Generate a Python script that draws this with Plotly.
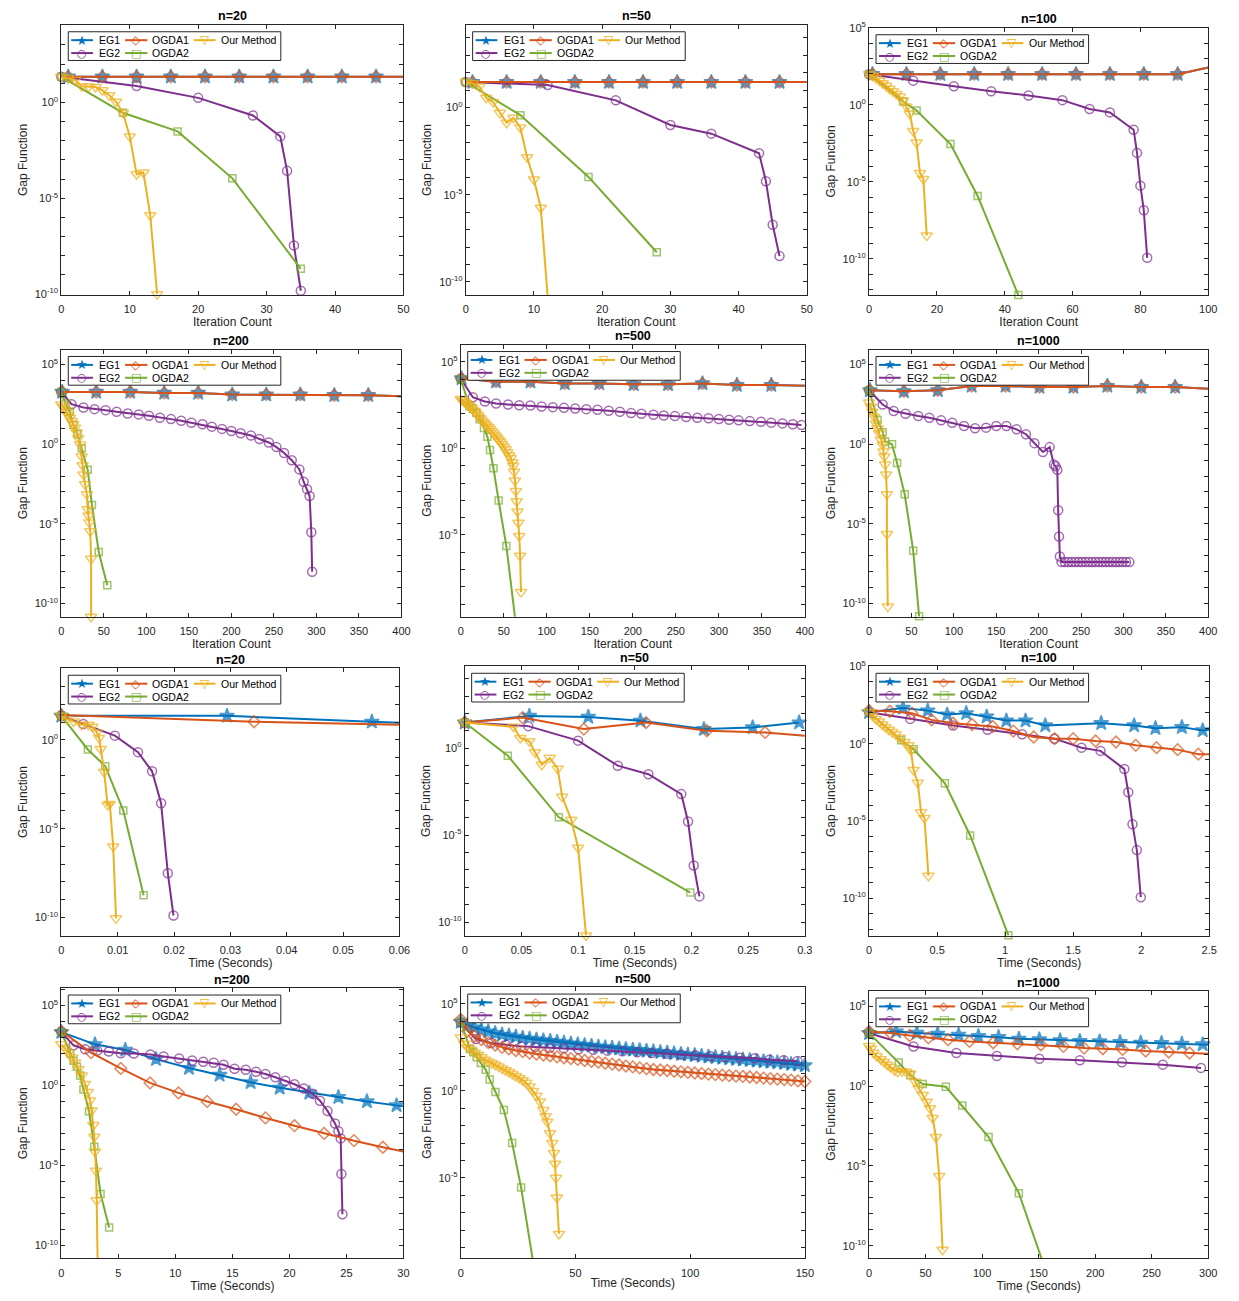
import math
import plotly.graph_objects as go

# figure fills the 1239x1301 page (body margin is removed after drawing)
OX, OY = 0, 0
FW, FH = 1239, 1301
FONT = "Liberation Sans, Arial, Helvetica, sans-serif"
INK = "#262626"

SERIES = ["EG1", "EG2", "OGDA1", "OGDA2", "Our Method"]
COLORS = {"EG1": "#0072BD", "EG2": "#7E2F8E", "OGDA1": "#D95319",
          "OGDA2": "#77AC30", "Our Method": "#EDB120"}
SYMBOLS = {"EG1": "star", "EG2": "circle-open", "OGDA1": "diamond-open",
           "OGDA2": "square-open", "Our Method": "triangle-down-open"}
MSIZE = {"EG1": 11, "EG2": 9, "OGDA1": 9, "OGDA2": 7, "Our Method": 10}
GLYPH = {"EG1": "★", "EG2": "○", "OGDA1": "◇", "OGDA2": "□", "Our Method": "▽"}
GLYPH_SIZE = {"EG1": 13, "EG2": 11, "OGDA1": 12, "OGDA2": 11, "Our Method": 12}

ITER_LABEL = "Iteration Count"
TIME_LABEL = "Time (Seconds)"
Y_LABEL = "Gap Function"
TITLES = ["n=20", "n=50", "n=100", "n=200", "n=500", "n=1000",
          "n=20", "n=50", "n=100", "n=200", "n=500", "n=1000"]

# legend layout (entries in MATLAB column-first order, 3 columns)
LEG_ITEMS = [("EG1", 0, 0), ("OGDA1", 1, 0), ("Our Method", 2, 0), ("EG2", 0, 1), ("OGDA2", 1, 1)]

# x tick values / labels
XT_50 = [0, 10, 20, 30, 40, 50]
XT_50_TXT = ["0", "10", "20", "30", "40", "50"]
XT_100 = [0, 20, 40, 60, 80, 100]
XT_100_TXT = ["0", "20", "40", "60", "80", "100"]
XT_400 = [0, 50, 100, 150, 200, 250, 300, 350, 400]
XT_400_TXT = ["0", "50", "100", "150", "200", "250", "300", "350", "400"]
XT_006 = [0, 0.01, 0.02, 0.03, 0.04, 0.05, 0.06]
XT_006_TXT = ["0", "0.01", "0.02", "0.03", "0.04", "0.05", "0.06"]
XT_03 = [0, 0.05, 0.1, 0.15, 0.2, 0.25, 0.3]
XT_03_TXT = ["0", "0.05", "0.1", "0.15", "0.2", "0.25", "0.3"]
XT_25 = [0, 0.5, 1, 1.5, 2, 2.5]
XT_25_TXT = ["0", "0.5", "1", "1.5", "2", "2.5"]
XT_30 = [0, 5, 10, 15, 20, 25, 30]
XT_30_TXT = ["0", "5", "10", "15", "20", "25", "30"]
XT_150 = [0, 50, 100, 150]
XT_150_TXT = ["0", "50", "100", "150"]
XT_300 = [0, 50, 100, 150, 200, 250, 300]
XT_300_TXT = ["0", "50", "100", "150", "200", "250", "300"]

# ---------------- Panel 1: n=20, iterations ----------------
P1_EG1_X = [0, 1, 6, 11, 16, 21, 26, 31, 36, 41, 46, 50]
P1_EG1_Y = [22, 22, 22, 22, 22, 22, 22, 22, 22, 22, 22, 22]
P1_OGDA1_X = [0, 1, 6, 11, 16, 21, 26, 31, 36, 41, 46, 50]
P1_OGDA1_Y = [22, 22, 22, 22, 22, 22, 22, 22, 22, 22, 22, 22]
P1_EG2_X = [0, 11, 20, 28, 32, 33, 34, 35]
P1_EG2_Y = [22, 7.2, 1.74, 0.21, 0.017, 2.7e-4, 3.5e-8, 1.5e-10]
P1_OGDA2_X = [0, 9, 17, 25, 35]
P1_OGDA2_Y = [22, 0.29, 0.031, 1.1e-4, 2.1e-9]
P1_OUR_X = [0, 1, 2, 3, 4, 5, 6, 7, 8, 9, 10, 11, 12, 13, 14]
P1_OUR_Y = [22, 19, 15, 6.9, 6.9, 6.4, 4.3, 2.4, 1.08, 0.29, 0.017, 1.8e-4, 2.2e-4, 1.3e-6, 1.0e-10]

# ---------------- Panel 2: n=50, iterations ----------------
P2_EG1_X = [0, 1, 6, 11, 16, 21, 26, 31, 36, 41, 46, 50]
P2_EG1_Y = [29, 29, 29, 29, 29, 29, 29, 29, 29, 29, 29, 29]
P2_OGDA1_X = [0, 1, 6, 11, 16, 21, 26, 31, 36, 41, 46, 50]
P2_OGDA1_Y = [29, 29, 29, 29, 29, 29, 29, 29, 29, 29, 29, 29]
P2_EG2_X = [0, 12, 22, 30, 36, 43, 44, 45, 46]
P2_EG2_Y = [29, 20, 2.6, 0.10, 0.032, 2.4e-3, 6e-5, 1.9e-7, 3e-9]
P2_OGDA2_X = [0, 8, 18, 28]
P2_OGDA2_Y = [29, 0.37, 1.05e-4, 5e-9]
P2_OUR_X = [0, 1, 2, 3, 4, 5, 6, 7, 8, 9, 10, 11, 12]
P2_OUR_Y = [29, 25, 16, 3.7, 2.1, 0.5, 0.134, 0.26, 0.073, 1.4e-3, 7.5e-5, 1.8e-6, 1.7e-11]

# ---------------- Panel 3: n=100, iterations ----------------
P3_EG1_X = [0, 1, 11, 21, 31, 41, 51, 61, 71, 81, 91, 100]
P3_EG1_Y = [98, 98, 98, 98, 98, 98, 98, 98, 98, 98, 98, 263]
P3_OGDA1_X = [0, 1, 11, 21, 31, 41, 51, 61, 71, 81, 91, 100]
P3_OGDA1_Y = [98, 98, 98, 98, 98, 98, 98, 98, 98, 98, 98, 263]
P3_EG2_X = [0, 13, 25, 36, 47, 57, 65, 71, 78, 79, 80, 81, 82]
P3_EG2_Y = [98, 37, 16, 7.5, 4.0, 2.0, 0.53, 0.32, 0.024, 7.5e-4, 5.6e-6, 1.4e-7, 1.15e-10]
P3_OGDA2_X = [0, 10, 14, 24, 32, 44]
P3_OGDA2_Y = [98, 1.64, 0.43, 2.8e-3, 1.2e-6, 4.4e-13]
P3_OUR_X = [0, 1, 2, 3, 4, 5, 6, 7, 8, 9, 10, 11, 12, 13, 14, 15, 16, 17]
P3_OUR_Y = [98, 77, 54, 37, 25, 17, 11, 7.5, 5.1, 3.4, 1.9, 0.78, 0.26, 0.02, 3.5e-3, 3.7e-5, 1.5e-5, 3.2e-9]

# ---------------- Panel 4: n=200, iterations ----------------
P4_EG1_X = [0, 1, 41, 81, 121, 161, 201, 241, 281, 321, 361, 400]
P4_EG1_Y = [1860, 1860, 1860, 1860, 1620, 1620, 1270, 1270, 1270, 1160, 1160, 1000]
P4_OGDA1_X = [0, 1, 41, 81, 121, 161, 201, 241, 281, 321, 361, 400]
P4_OGDA1_Y = [1860, 1860, 1860, 1860, 1620, 1620, 1270, 1270, 1270, 1160, 1160, 1000]
P4_EG2_X = [0, 12, 26, 39, 52, 65, 78, 91, 103, 116, 129, 141, 153, 166, 177, 189, 200, 211,
            223, 233, 244, 253, 262, 271, 280, 285, 289, 292, 294, 295]
P4_EG2_Y = [1860, 320, 200, 156, 135, 107, 84, 73, 60, 45, 37, 29.5, 22, 17.5, 12.5, 9, 6.7, 4.8,
            3.45, 2.1, 1.27, 0.65, 0.28, 0.097, 0.026, 4.4e-3, 1.5e-3, 5.6e-4, 3e-6, 1e-8]
P4_OGDA2_X = [0, 5, 10, 14, 19, 24, 31, 36, 44, 54]
P4_OGDA2_Y = [1860, 350, 107, 16, 4.2, 0.56, 0.025, 1.55e-4, 1.7e-7, 1.4e-9]
P4_OUR_X = [0, 2, 4, 6, 8, 10, 12, 14, 16, 18, 20, 22, 24, 25, 26, 28, 30, 31, 32, 33, 34, 35, 35]
P4_OUR_Y = [305, 219, 157, 107, 66, 45, 28, 18.3, 10.8, 5.6, 2.4, 0.95, 0.17, 0.047, 0.0124,
            3.0e-3, 7.1e-4, 8.3e-5, 3.2e-5, 1.24e-5, 3.4e-6, 6.5e-8, 1.5e-11]

# ---------------- Panel 5: n=500, iterations ----------------
P5_EG1_X = [0, 1, 41, 81, 121, 161, 201, 241, 281, 321, 361, 400]
P5_EG1_Y = [11000, 11000, 7200, 7200, 5750, 5750, 5050, 5050, 5750, 4600, 4600, 4240]
P5_OGDA1_X = [0, 1, 41, 81, 121, 161, 201, 241, 281, 321, 361, 400]
P5_OGDA1_Y = [11000, 11000, 7200, 7200, 5750, 5750, 5050, 5050, 5750, 4600, 4600, 4240]
P5_EG2_X = [0, 14, 28, 41, 55, 68, 81, 94, 107, 120, 133, 146, 159, 172, 185, 198, 210, 224,
            236, 249, 262, 275, 288, 300, 312, 323, 336, 349, 361, 374, 386, 396]
P5_EG2_Y = [11000, 908, 513, 394, 345, 316, 302, 265, 243, 222, 204, 187, 171, 150, 131, 110, 101,
            88, 81, 74, 65, 60, 55, 50, 46, 42, 38, 35, 31, 28, 25, 22.6]
P5_OGDA2_X = [0, 10, 14, 18, 22, 27, 31, 34, 38, 44, 53, 63]
P5_OGDA2_Y = [10000, 277, 195, 115, 48, 15.2, 4.7, 0.8, 0.072, 9.7e-4, 2.3e-6, 1.85e-10]
P5_OUR_X = [0, 2, 4, 6, 8, 10, 12, 14, 16, 18, 20, 22, 24, 26, 28, 30, 32, 34, 36, 38, 40, 42,
            44, 46, 48, 50, 52, 54, 56, 58, 60, 61, 62, 63, 64, 65, 66, 67, 68, 69, 70]
P5_OUR_Y = [720, 600, 500, 420, 350, 290, 230, 180, 140, 105, 81, 60, 45, 34, 27, 21, 17, 13.5,
            10, 7.6, 5.6, 4.3, 3.2, 2.4, 1.8, 1.26, 0.89, 0.60, 0.40, 0.28, 0.16, 0.1, 0.045,
            0.014, 3.5e-3, 8.9e-4, 2.3e-4, 5.1e-5, 8.7e-6, 6.3e-7, 5e-9]

# ---------------- Panel 6: n=1000, iterations ----------------
P6_EG1_X = [0, 1, 41, 81, 121, 161, 201, 241, 281, 321, 361, 400]
P6_EG1_Y = [2370, 2370, 2050, 2370, 4400, 4400, 3800, 3800, 4400, 3800, 3800, 3000]
P6_OGDA1_X = [0, 1, 41, 81, 121, 161, 201, 241, 281, 321, 361, 400]
P6_OGDA1_Y = [2370, 2370, 2050, 2370, 4400, 4400, 3800, 3800, 4400, 3800, 3800, 3000]
P6_EG2_X = [0, 16, 29, 43, 58, 71, 85, 98, 112, 125, 138, 150, 162, 174, 185, 195, 205, 213,
            218, 220, 222, 223, 224, 225,
            227, 231, 235, 239, 243, 247, 251, 255, 259, 263, 267, 271, 275, 279, 283, 287,
            291, 295, 299, 303, 307]
P6_EG2_Y = [2370, 305, 118, 80, 57.5, 45, 31, 22, 13.8, 9.9, 10.8, 13.8, 13.8, 8.5, 4.2, 1.15,
            0.32, 0.65, 0.052, 0.041, 0.025, 7.2e-5, 1.6e-6, 9.1e-8,
            4e-8, 4e-8, 4e-8, 4e-8, 4e-8, 4e-8, 4e-8, 4e-8, 4e-8, 4e-8, 4e-8, 4e-8, 4e-8, 4e-8,
            4e-8, 4e-8, 4e-8, 4e-8, 4e-8, 4e-8, 4e-8]
P6_OGDA2_X = [0, 10, 16, 19, 27, 33, 42, 52, 59]
P6_OGDA2_Y = [2370, 32.5, 5.6, 1.47, 1.0, 0.066, 7.1e-4, 2.1e-7, 1.6e-11]
P6_OUR_X = [0, 2, 4, 6, 8, 10, 12, 14, 16, 17, 18, 19, 20, 21, 21, 22]
P6_OUR_Y = [407, 219, 107, 52, 20, 9.9, 4.8, 1.86, 0.91, 0.35, 0.17, 0.052, 0.0124, 7.1e-4,
            2.3e-6, 6.5e-11]

# ---------------- Panel 7: n=20, time ----------------
P7_EG1_X = [0, 0.0294, 0.0551, 0.06]
P7_EG1_Y = [22.7, 22.7, 10.5, 9.3]
P7_OGDA1_X = [0, 0.0342, 0.06]
P7_OGDA1_Y = [25, 10.5, 7.2]
P7_EG2_X = [0, 0.0039, 0.0095, 0.0136, 0.0161, 0.0177, 0.0189, 0.0199]
P7_EG2_Y = [22.7, 7.8, 1.74, 0.205, 0.0171, 2.7e-4, 3.1e-8, 1.3e-10]
P7_OGDA2_X = [0, 0.0047, 0.0078, 0.011, 0.0146]
P7_OGDA2_Y = [22.7, 0.29, 0.033, 1.05e-4, 1.8e-9]
P7_OUR_X = [0, 0.001, 0.0022, 0.0036, 0.0048, 0.0055, 0.0063, 0.0067, 0.007, 0.0076, 0.0082,
            0.0086, 0.0092, 0.0097]
P7_OUR_Y = [22.7, 14.8, 11, 7.2, 7.2, 5.5, 2.7, 1.3, 0.31, 0.0158, 2.2e-4, 2.5e-4, 1.0e-6, 9e-11]

# ---------------- Panel 8: n=50, time ----------------
P8_EG1_X = [0, 0.057, 0.109, 0.155, 0.211, 0.254, 0.295]
P8_EG1_Y = [30, 72, 63, 38, 12.6, 15.7, 30]
P8_OGDA1_X = [0, 0.051, 0.105, 0.16, 0.2135, 0.265, 0.3]
P8_OGDA1_Y = [30, 58, 12.6, 30, 10.1, 8.1, 5.3]
P8_EG2_X = [0, 0.056, 0.1, 0.135, 0.162, 0.191, 0.197, 0.202, 0.207]
P8_EG2_Y = [30, 18.7, 2.73, 0.099, 0.032, 2.3e-3, 6.1e-5, 1.8e-7, 3e-9]
P8_OGDA2_X = [0, 0.038, 0.083, 0.199]
P8_OGDA2_Y = [30, 0.37, 1.07e-4, 5e-9]
P8_OUR_X = [0, 0.043, 0.049, 0.057, 0.062, 0.068, 0.075, 0.082, 0.086, 0.094, 0.1, 0.107]
P8_OUR_Y = [30, 17.1, 3.9, 2.5, 0.59, 0.112, 0.28, 0.067, 1.6e-3, 7.6e-5, 1.9e-6, 1.7e-11]

# ---------------- Panel 9: n=100, time ----------------
P9_EG1_X = [0, 0.249, 0.431, 0.574, 0.714, 0.864, 1.009, 1.15, 1.295, 1.706, 1.948, 2.105,
            2.299, 2.452, 2.5]
P9_EG1_Y = [107, 203, 137, 76, 92, 56, 31, 31, 15, 21, 15, 10, 11.7, 7.2, 7.9]
P9_OGDA1_X = [0, 0.152, 0.315, 0.46, 0.617, 0.757, 0.908, 1.06, 1.21, 1.363, 1.5, 1.665, 1.815,
              1.96, 2.113, 2.268, 2.42, 2.5]
P9_OGDA1_Y = [137, 124, 92, 34.5, 21, 17.4, 12.9, 6.5, 2.7, 2.1, 2.1, 1.48, 1.28, 0.78, 0.55,
              0.41, 0.21, 0.21]
P9_EG2_X = [0, 0.3025, 0.617, 0.871, 1.125, 1.3625, 1.561, 1.701, 1.876, 1.905, 1.936, 1.968, 1.997]
P9_EG2_Y = [107, 40, 15, 7.9, 4.0, 2.1, 0.55, 0.34, 0.0226, 7.2e-4, 6.1e-6, 1.3e-7, 1.15e-10]
P9_OGDA2_X = [0, 0.235, 0.327, 0.557, 0.743, 1.024]
P9_OGDA2_Y = [107, 1.64, 0.43, 2.7e-3, 1.15e-6, 4e-13]
P9_OUR_X = [0, 0.024, 0.048, 0.073, 0.097, 0.121, 0.145, 0.169, 0.194, 0.225, 0.259, 0.29, 0.307,
            0.327, 0.358, 0.382, 0.407, 0.436]
P9_OUR_Y = [107, 65, 40, 27, 17.3, 11.7, 7.9, 5.6, 4.0, 2.4, 1.28, 0.78, 0.37, 0.0195, 3e-3,
            3.6e-5, 1.56e-5, 2.8e-9]

# ---------------- Panel 10: n=200, time ----------------
P10_EG1_X = [0, 2.95, 5.61, 8.3, 11.19, 13.88, 16.6, 19.15, 21.75, 24.3, 26.8, 29.4, 30]
P10_EG1_Y = [2190, 378, 169, 44.7, 12.4, 4.6, 1.6, 0.72, 0.35, 0.19, 0.102, 0.058, 0.05]
P10_OGDA1_X = [0, 2.6, 5.21, 7.78, 10.27, 12.79, 15.33, 17.9, 20.45, 23.05, 25.66, 28.2, 30]
P10_OGDA1_Y = [2520, 115, 11.8, 1.46, 0.35, 0.102, 0.033, 9.5e-3, 3.1e-3, 1.02e-3, 3.6e-4,
               1.4e-4, 7.5e-5]
P10_EG2_X = [0, 1.07, 2.08, 3.15, 4.17, 5.21, 6.36, 7.81, 8.97, 10.33, 11.48, 12.44, 13.36,
             14.23, 15.19, 16.17, 17.07, 17.9, 18.77, 19.64, 20.45, 21.26, 22.04, 22.68, 23.34,
             24.0, 24.3, 24.5, 24.56, 24.65]
P10_EG2_Y = [2190, 327, 185, 153, 133, 105, 100, 87, 65, 49, 37, 30.5, 26.5, 20, 11.3, 9.8, 7.3,
             5.3, 3.3, 2.0, 1.2, 0.65, 0.31, 0.113, 0.026, 4.3e-3, 1.4e-3, 5e-4, 3e-6, 9e-9]
P10_OGDA2_X = [0, 0.78, 1.07, 1.36, 1.65, 1.94, 2.43, 2.89, 3.44, 4.19]
P10_OGDA2_Y = [2190, 100, 35, 15, 4.2, 0.57, 0.025, 1.5e-4, 1.7e-7, 1.35e-9]
P10_OUR_X = [0, 0.35, 0.64, 0.93, 1.21, 1.5, 1.79, 2.08, 2.31, 2.52, 2.66, 2.81, 2.89, 2.95,
             3.04, 3.1, 3.18]
P10_OUR_Y = [378, 204, 115, 57, 28, 10.7, 4.2, 1.27, 0.39, 0.118, 0.028, 3.4e-3, 6.3e-4, 7.5e-5,
             4.8e-6, 6.7e-8, 1.2e-11]

# ---------------- Panel 11: n=500, time ----------------
P11_T = [0, 3, 6, 9, 12, 15, 18, 21, 24, 27, 30, 33, 36, 39, 42, 45, 48, 51, 54, 57, 60, 63,
         66, 69, 72, 75, 78, 81, 84, 87, 90, 93, 96, 99, 102, 105, 108, 111, 114, 117, 120,
         123, 126, 129, 132, 135, 138, 141, 144, 147, 150]
P11_EG1_Y = [9300, 6000, 4400, 3300, 2600, 2100, 1700, 1500, 1300, 1100, 1000, 890, 810, 740,
             660, 590, 520, 470, 430, 390, 350, 320, 300, 270, 250, 230, 220, 200, 190, 170,
             160, 145, 130, 123, 112, 102, 93, 87, 79, 74, 68, 63, 59, 54, 50, 46, 43, 39, 35,
             32, 29]
P11_OGDA1_Y = [13000, 2800, 1400, 890, 600, 430, 320, 260, 210, 180, 150, 130, 117, 105, 91,
               81, 72, 65, 56, 50, 45, 39, 35, 31, 27, 24, 21, 19, 17, 16, 15, 13.5, 12.6, 11.7,
               10.7, 10, 9.3, 8.7, 8.1, 7.6, 7.1, 6.8, 6.3, 5.9, 5.5, 5.1, 4.8, 4.5, 4.2, 3.8, 3.5]
P11_EG2_X = [0, 6.6, 13.3, 19.8, 26.3, 32.4, 38.8, 44.9, 51.4, 57.8, 64, 70.5, 76.9, 83.2, 89.9,
             96.2, 102.3, 108.8, 115.3, 121.7, 128.2, 134.6, 140.8, 146.8]
P11_EG2_Y = [8500, 955, 565, 454, 365, 334, 306, 280, 246, 235, 207, 189, 166, 152, 139, 122,
             112, 98, 90, 82, 76, 63, 58, 53]
P11_OGDA2_X = [0, 4.0, 5.45, 6.9, 8.76, 10.9, 12.6, 15.1, 18.8, 22.4, 26.3, 31.3]
P11_OGDA2_Y = [10000, 257, 166, 86, 41, 16.4, 4.6, 0.88, 0.079, 1e-3, 2.8e-6, 2.3e-10]
P11_OUR_X = [0, 1.5, 3, 4.5, 6, 7.5, 9, 10.5, 12, 13.5, 15, 16.5, 18, 19.5, 21, 22.5, 24, 25.5,
             27, 28.5, 30, 31.5, 33, 34.5, 36, 37, 37.7, 38.9, 39.9, 40.6, 41.1, 41.5, 41.9, 42.8]
P11_OUR_Y = [1200, 520, 330, 230, 160, 120, 87, 63, 50, 40, 32, 25, 19.5, 15.5, 12.3, 9.5, 7.2,
             5.5, 4.1, 2.95, 1.78, 1.0, 0.52, 0.25, 0.079, 0.035, 0.017, 3.7e-3, 1e-3, 2.7e-4,
             6.5e-5, 1e-5, 7.4e-7, 6e-9]

# ---------------- Panel 12: n=1000, time ----------------
P12_EG1_X = [0, 23.9, 42.2, 60.6, 79.2, 96.7, 114.5, 132.5, 150.6, 169, 186.4, 203.9, 222,
             240.3, 258.7, 276.7, 295.1, 300]
P12_EG1_Y = [2050, 2610, 2150, 1870, 1620, 1340, 1160, 913, 830, 720, 655, 624, 567, 516, 490,
             447, 406, 387]
P12_OGDA1_X = [0, 18.9, 35.8, 52.4, 69.9, 88.8, 109.8, 131.1, 152, 171.9, 190.2, 206.8, 224.3,
               244.7, 265.1, 283.4, 300]
P12_OGDA1_Y = [2610, 2150, 1470, 1050, 790, 624, 516, 447, 387, 305, 240, 219, 199, 157, 136,
               118, 107]
P12_EG2_X = [0, 39.3, 77.2, 113, 150.6, 186.4, 223.7, 259.8, 293.6]
P12_EG2_Y = [2050, 305, 118, 77, 52, 41, 31, 22, 13.8]
P12_OGDA2_X = [0, 26.2, 36.4, 47.5, 67.9, 82.4, 105.7, 132.5, 152.9]
P12_OGDA2_Y = [2050, 29.5, 4.8, 1.33, 0.91, 0.06, 6.5e-4, 1.96e-7, 1.35e-11]
P12_OUR_X = [0, 1.5, 3.8, 6.7, 10.2, 13.1, 16, 18.9, 22.4, 25.3, 29.1, 32.9, 36.4, 40.8, 43.7,
             47.5, 51, 53.9, 56.2, 59.1, 62, 65]
P12_OUR_Y = [320, 219, 123, 77, 48, 32, 22, 15.8, 9.9, 7.8, 8.5, 7.8, 6.1, 1.86, 0.72, 0.28,
             0.106, 0.041, 0.01, 6.5e-4, 2.3e-6, 5.6e-11]


def S(eg1x, eg1y, eg2x, eg2y, o1x, o1y, o2x, o2y, ourx, oury):
    return {"EG1": (eg1x, eg1y), "EG2": (eg2x, eg2y), "OGDA1": (o1x, o1y),
            "OGDA2": (o2x, o2y), "Our Method": (ourx, oury)}


ENDS = {"EG1": [0, -1], "OGDA1": [0, -1]}
PANELS = [
    dict(xlabel=ITER_LABEL, box=(59, 17, 405, 290), xr=[0, 50], yr=[-10.05, 4.05],
         xt=(XT_50, XT_50_TXT), bare=ENDS,
         data=S(P1_EG1_X, P1_EG1_Y, P1_EG2_X, P1_EG2_Y, P1_OGDA1_X, P1_OGDA1_Y,
                P1_OGDA2_X, P1_OGDA2_Y, P1_OUR_X, P1_OUR_Y)),
    dict(xlabel=ITER_LABEL, box=(468, 17, 813, 290), xr=[0, 50], yr=[-10.76, 4.75],
         xt=(XT_50, XT_50_TXT), bare=ENDS,
         data=S(P2_EG1_X, P2_EG1_Y, P2_EG2_X, P2_EG2_Y, P2_OGDA1_X, P2_OGDA1_Y,
                P2_OGDA2_X, P2_OGDA2_Y, P2_OUR_X, P2_OUR_Y)),
    dict(xlabel=ITER_LABEL, box=(876, 20, 1219, 290), xr=[0, 100], yr=[-12.36, 5.0],
         xt=(XT_100, XT_100_TXT), bare=ENDS,
         data=S(P3_EG1_X, P3_EG1_Y, P3_EG2_X, P3_EG2_Y, P3_OGDA1_X, P3_OGDA1_Y,
                P3_OGDA2_X, P3_OGDA2_Y, P3_OUR_X, P3_OUR_Y)),
    dict(xlabel=ITER_LABEL, box=(59, 345, 403, 615), xr=[0, 400], yr=[-10.83, 5.93],
         xt=(XT_400, XT_400_TXT), bare=ENDS,
         data=S(P4_EG1_X, P4_EG1_Y, P4_EG2_X, P4_EG2_Y, P4_OGDA1_X, P4_OGDA1_Y,
                P4_OGDA2_X, P4_OGDA2_Y, P4_OUR_X, P4_OUR_Y)),
    dict(xlabel=ITER_LABEL, box=(463, 340, 811, 615), xr=[0, 400], yr=[-9.73, 6.0],
         xt=(XT_400, XT_400_TXT), bare=ENDS,
         data=S(P5_EG1_X, P5_EG1_Y, P5_EG2_X, P5_EG2_Y, P5_OGDA1_X, P5_OGDA1_Y,
                P5_OGDA2_X, P5_OGDA2_Y, P5_OUR_X, P5_OUR_Y)),
    dict(xlabel=ITER_LABEL, box=(876, 345, 1219, 615), xr=[0, 400], yr=[-10.83, 5.93],
         xt=(XT_400, XT_400_TXT), bare=ENDS,
         data=S(P6_EG1_X, P6_EG1_Y, P6_EG2_X, P6_EG2_Y, P6_OGDA1_X, P6_OGDA1_Y,
                P6_OGDA2_X, P6_OGDA2_Y, P6_OUR_X, P6_OUR_Y)),
    dict(xlabel=TIME_LABEL, box=(59, 667, 401, 937), xr=[0, 0.06], yr=[-11.02, 4.03],
         xt=(XT_006, XT_006_TXT), bare={"EG1": [-1], "OGDA1": [-1]},
         data=S(P7_EG1_X, P7_EG1_Y, P7_EG2_X, P7_EG2_Y, P7_OGDA1_X, P7_OGDA1_Y,
                P7_OGDA2_X, P7_OGDA2_Y, P7_OUR_X, P7_OUR_Y)),
    dict(xlabel=TIME_LABEL, box=(467, 665, 811, 937), xr=[0, 0.3], yr=[-10.78, 4.71],
         xt=(XT_03, XT_03_TXT), bare={"OGDA1": [-1]},
         data=S(P8_EG1_X, P8_EG1_Y, P8_EG2_X, P8_EG2_Y, P8_OGDA1_X, P8_OGDA1_Y,
                P8_OGDA2_X, P8_OGDA2_Y, P8_OUR_X, P8_OUR_Y)),
    dict(xlabel=TIME_LABEL, box=(876, 665, 1220, 937), xr=[0, 2.5], yr=[-12.42, 5.0],
         xt=(XT_25, XT_25_TXT), bare={"EG1": [-1], "OGDA1": [-1]},
         data=S(P9_EG1_X, P9_EG1_Y, P9_EG2_X, P9_EG2_Y, P9_OGDA1_X, P9_OGDA1_Y,
                P9_OGDA2_X, P9_OGDA2_Y, P9_OUR_X, P9_OUR_Y)),
    dict(xlabel=TIME_LABEL, box=(59, 990, 405, 1263), xr=[0, 30], yr=[-10.8, 6.09],
         xt=(XT_30, XT_30_TXT), bare={"EG1": [-1], "OGDA1": [-1]},
         data=S(P10_EG1_X, P10_EG1_Y, P10_EG2_X, P10_EG2_Y, P10_OGDA1_X, P10_OGDA1_Y,
                P10_OGDA2_X, P10_OGDA2_Y, P10_OUR_X, P10_OUR_Y)),
    dict(xlabel=TIME_LABEL, box=(463, 989, 811, 1263), xr=[0, 150], yr=[-9.63, 5.97],
         xt=(XT_150, XT_150_TXT), bare={},
         data=S(P11_T, P11_EG1_Y, P11_EG2_X, P11_EG2_Y, P11_T, P11_OGDA1_Y,
                P11_OGDA2_X, P11_OGDA2_Y, P11_OUR_X, P11_OUR_Y)),
    dict(xlabel=TIME_LABEL, box=(876, 993, 1219, 1263), xr=[0, 300], yr=[-10.79, 5.95],
         xt=(XT_300, XT_300_TXT), bare={"EG1": [-1], "OGDA1": [-1]},
         data=S(P12_EG1_X, P12_EG1_Y, P12_EG2_X, P12_EG2_Y, P12_OGDA1_X, P12_OGDA1_Y,
                P12_OGDA2_X, P12_OGDA2_Y, P12_OUR_X, P12_OUR_Y)),
]


def fx(X):
    return (X - OX) / FW


def fy(Y):
    return 1 - (Y - OY) / FH


# legend geometry, in pixels relative to the legend box
LEG_W, LEG_H = 215, 29
LEG_COLS = [(3, 25, 14, 29.5), (57.5, 80, 68.8, 83), (127, 149, 138, 152.5)]
LEG_ROWS = [8.5, 21.5]

fig = go.Figure()
layout = {}
annotations = []
shapes = []

for i, p in enumerate(PANELS, start=1):
    sfx = "" if i == 1 else str(i)
    xa, ya = "x" + sfx, "y" + sfx
    l, t, r, b = p["box"]

    for name in SERIES:
        xs, ys = p["data"][name]
        assert len(xs) == len(ys), (i, name, len(xs), len(ys))
        bare = {k % len(xs) for k in p["bare"].get(name, [])}
        sizes = [0 if j in bare else MSIZE[name] for j in range(len(xs))]
        fig.add_trace(go.Scatter(
            x=xs, y=ys, mode="lines+markers", name=name, showlegend=False,
            xaxis=xa, yaxis=ya,
            line=dict(color=COLORS[name], width=2),
            marker=dict(symbol=SYMBOLS[name], size=sizes, color=COLORS[name],
                        line=dict(color=COLORS[name], width=1.5)),
            cliponaxis=False, hoverinfo="skip"))

    lo, hi = p["yr"]
    exps = list(range(math.ceil(lo), math.floor(hi) + 1))
    major = [k for k in exps if k % 5 == 0]
    minor = [10.0 ** k for k in exps if k % 5 != 0]

    layout["xaxis" + sfx] = dict(
        domain=[fx(l), fx(r)], anchor=ya, range=p["xr"],
        tickmode="array", tickvals=p["xt"][0], ticktext=p["xt"][1],
        ticks="inside", ticklen=4, tickcolor=INK, showline=True, linecolor=INK,
        linewidth=1, mirror="ticks", showgrid=False, zeroline=False, ticklabelstandoff=4,
        tickfont=dict(family=FONT, size=11, color=INK),
        title=dict(text=p["xlabel"], standoff=1, font=dict(family=FONT, size=12, color=INK)))
    layout["yaxis" + sfx] = dict(
        domain=[fy(b), fy(t)], anchor=xa, type="log", range=[lo, hi],
        tickmode="array", tickvals=[10.0 ** k for k in major],
        ticktext=[f"10<sup>{k}</sup>" for k in major],
        minor=dict(tickmode="array", tickvals=minor, ticks="inside", ticklen=4, tickcolor=INK,
                   showgrid=False),
        ticks="inside", ticklen=4, tickcolor=INK, showline=True, linecolor=INK,
        linewidth=1, mirror="ticks", showgrid=False, zeroline=False,
        tickfont=dict(family=FONT, size=11, color=INK),
        title=dict(text=Y_LABEL, standoff=4, font=dict(family=FONT, size=12, color=INK)))

    # panel title
    annotations.append(dict(
        x=fx((l + r) / 2), y=fy(t - 8.5), xref="paper", yref="paper",
        xanchor="center", yanchor="middle", showarrow=False,
        text=f"<b>{TITLES[i - 1]}</b>", font=dict(family=FONT, size=12.5, color="black")))

    # legend box (MATLAB style, 3 columns)
    bx, by = l + 7, t + 7
    shapes.append(dict(type="rect", xref="paper", yref="paper",
                       x0=fx(bx), x1=fx(bx + LEG_W), y0=fy(by + LEG_H), y1=fy(by),
                       line=dict(color=INK, width=1), fillcolor="white", layer="above"))
    for name, c, rr in LEG_ITEMS:
        lx0, lx1, mx, tx = LEG_COLS[c]
        yy = by + LEG_ROWS[rr]
        shapes.append(dict(type="line", xref="paper", yref="paper",
                           x0=fx(bx + lx0), x1=fx(bx + lx1), y0=fy(yy), y1=fy(yy),
                           line=dict(color=COLORS[name], width=2), layer="above"))
        annotations.append(dict(
            x=fx(bx + mx), y=fy(yy), xref="paper", yref="paper", showarrow=False,
            xanchor="center", yanchor="middle", text=f"<b>{GLYPH[name]}</b>",
            font=dict(family="DejaVu Sans", size=GLYPH_SIZE[name], color=COLORS[name])))
        annotations.append(dict(
            x=fx(bx + tx), y=fy(yy), xref="paper", yref="paper", showarrow=False,
            xanchor="left", yanchor="middle", text=name,
            font=dict(family=FONT, size=10.5, color="black")))

fig.update_layout(
    width=FW, height=FH, margin=dict(l=0, r=0, t=0, b=0),
    paper_bgcolor="white", plot_bgcolor="white", showlegend=False,
    annotations=annotations, shapes=shapes, **layout)

fig.write_html("out.html", config={"displayModeBar": False},
               post_script="document.body.style.margin='0';document.body.style.overflow='hidden';")
